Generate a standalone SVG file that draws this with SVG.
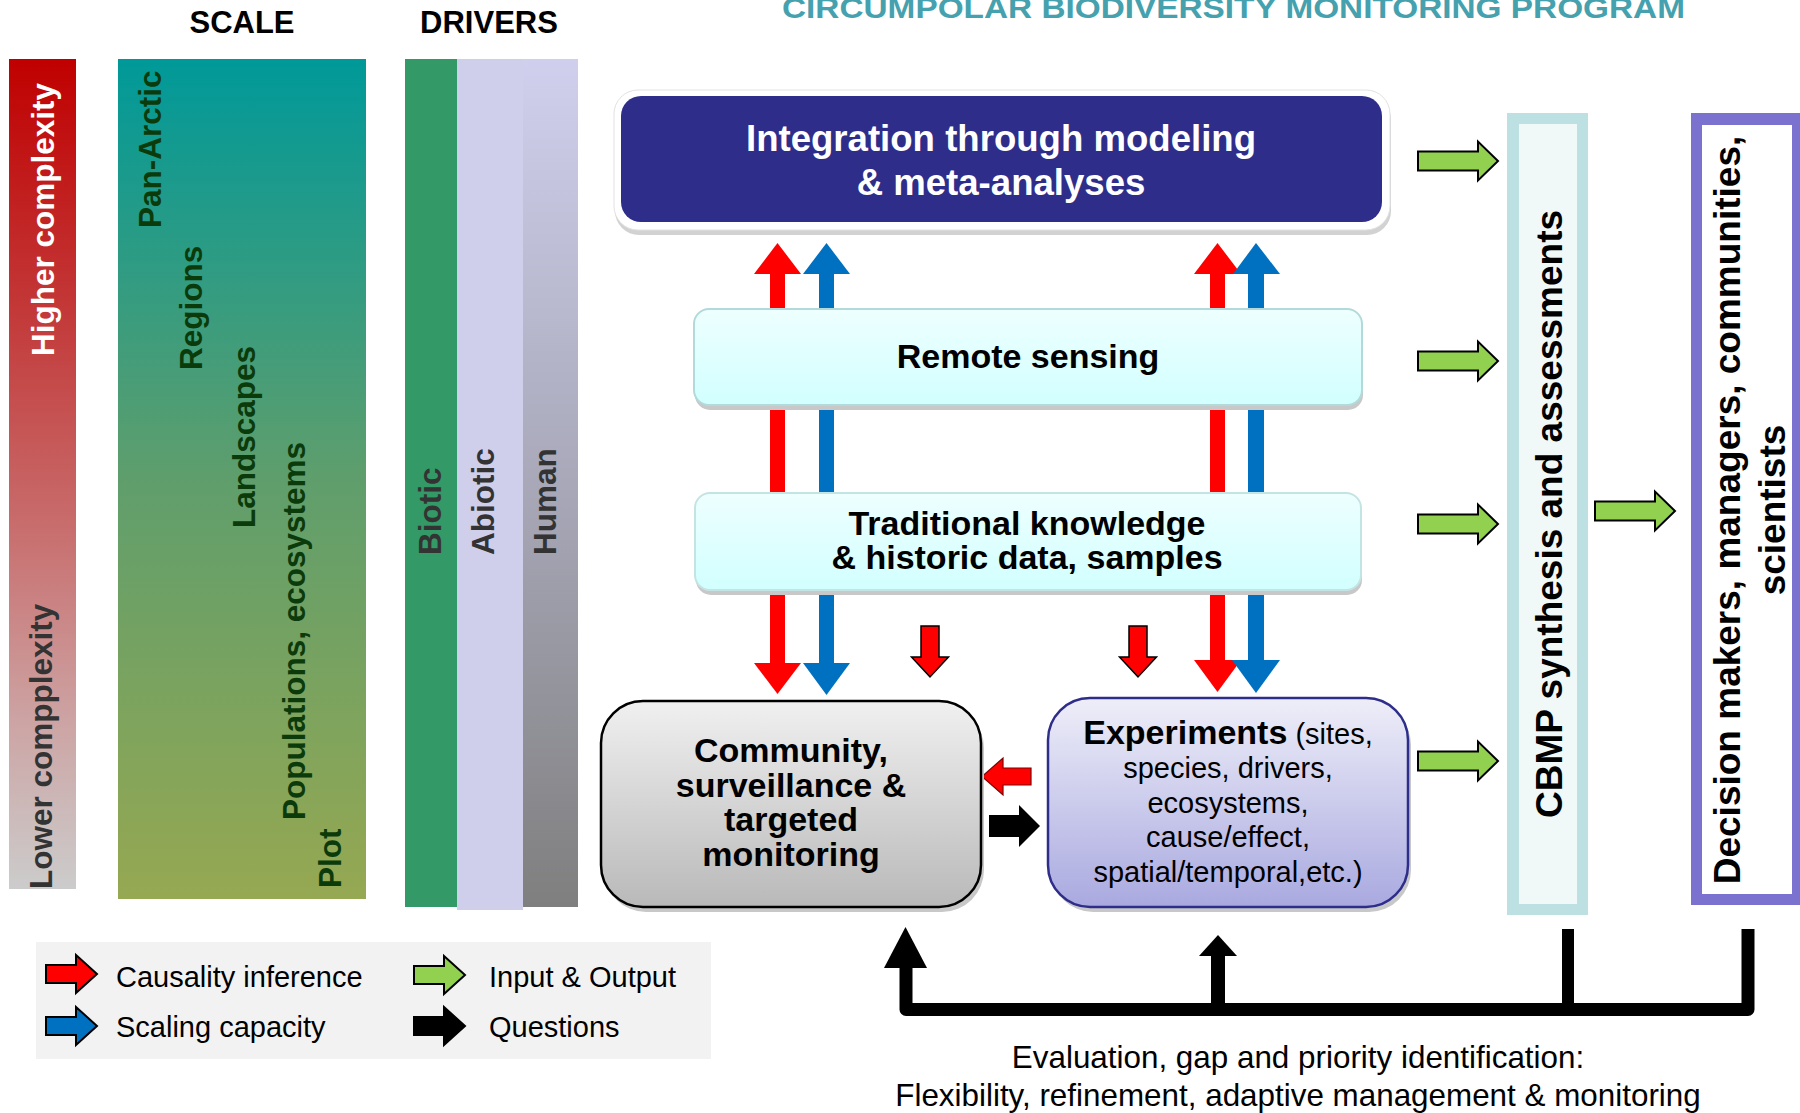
<svg xmlns="http://www.w3.org/2000/svg" xmlns:xlink="http://www.w3.org/1999/xlink" width="1800" height="1113" viewBox="0 0 1800 1113">
<defs>
<linearGradient id="gRed" x1="0" y1="0" x2="0" y2="1">
<stop offset="0" stop-color="#C00000"/><stop offset="0.3" stop-color="#C33838"/><stop offset="0.55" stop-color="#C86A6A"/><stop offset="0.8" stop-color="#CDA4A4"/><stop offset="1" stop-color="#CCCCCC"/>
</linearGradient>
<linearGradient id="gScale" x1="0" y1="0" x2="0" y2="1">
<stop offset="0" stop-color="#009999"/><stop offset="0.5" stop-color="#5F9E6C"/><stop offset="1" stop-color="#96A852"/>
</linearGradient>
<linearGradient id="gHuman" x1="0" y1="0" x2="0" y2="1">
<stop offset="0" stop-color="#D0D0EE"/><stop offset="0.5" stop-color="#A8A8B9"/><stop offset="1" stop-color="#7F7F7F"/>
</linearGradient>
<linearGradient id="gCyan" x1="0" y1="0" x2="0" y2="1">
<stop offset="0" stop-color="#EEFFFF"/><stop offset="1" stop-color="#D2FFFF"/>
</linearGradient>
<linearGradient id="gComm" x1="0" y1="0" x2="0" y2="1">
<stop offset="0" stop-color="#F0F0F0"/><stop offset="1" stop-color="#B9B9B9"/>
</linearGradient>
<linearGradient id="gExp" x1="0" y1="0" x2="0" y2="1">
<stop offset="0" stop-color="#EEEEF9"/><stop offset="1" stop-color="#A9A9E0"/>
</linearGradient>
<path id="blk" d="M0,-9.5 H60 V-19.5 L80,0 L60,19.5 V9.5 H0 Z"/>
<path id="leg" d="M0,-9 H30 V-19 L51,0 L30,19 V9 H0 Z"/>
<path id="smalldown" d="M-9,0 H9 V31 H18.5 L0,51 L-18.5,31 H-9 Z"/>
</defs>
<style>
text{font-family:"Liberation Sans",Arial,sans-serif}
.hdr{font-size:31px;font-weight:bold;fill:#000}
.rot{font-size:31.5px;font-weight:bold}
.sc{fill:#0B3B0B}
.dr{fill:#333333}
.box{font-size:34px;font-weight:bold;fill:#000}
.reg{font-size:29px;fill:#000}
.big{font-size:37px;font-weight:bold;fill:#000}
.green{fill:#92D050;stroke:#000;stroke-width:2}
.red{fill:#FF0000}
.blue{fill:#0070C0}
.shadow{fill:#C8C8C8}
</style>
<rect width="1800" height="1113" fill="#FFFFFF"/>

<g id="title">
<text x="782" y="18" font-family="Lato, 'Open Sans', sans-serif" font-size="30" font-weight="bold" fill="#46A1AE" textLength="903" lengthAdjust="spacingAndGlyphs">CIRCUMPOLAR BIODIVERSITY MONITORING PROGRAM</text>
</g>

<g id="complexity">
<rect x="9" y="59" width="67" height="830" fill="url(#gRed)"/>
<text class="rot" fill="#FFFFFF" font-size="32" transform="translate(54,356) rotate(-90)">Higher complexity</text>
<text class="rot" fill="#333333" transform="translate(52,889) rotate(-90)">Lower compplexity</text>
</g>

<g id="scale">
<text class="hdr" x="242" y="33" text-anchor="middle">SCALE</text>
<rect x="118" y="59" width="248" height="840" fill="url(#gScale)"/>
<text class="rot sc" transform="translate(161,228) rotate(-90)">Pan-Arctic</text>
<text class="rot sc" transform="translate(202,370) rotate(-90)">Regions</text>
<text class="rot sc" transform="translate(255,528) rotate(-90)">Landscapes</text>
<text class="rot sc" transform="translate(305,820) rotate(-90)">Populations, ecosystems</text>
<text class="rot sc" transform="translate(341,888) rotate(-90)">Plot</text>
</g>

<g id="drivers">
<text class="hdr" x="489" y="33" text-anchor="middle">DRIVERS</text>
<rect x="405" y="59" width="53" height="848" fill="#339966"/>
<rect x="457" y="59" width="66" height="851" fill="#CFCFEC"/>
<rect x="523" y="59" width="55" height="848" fill="url(#gHuman)"/>
<text class="rot dr" transform="translate(441,555) rotate(-90)">Biotic</text>
<text class="rot dr" transform="translate(494,555) rotate(-90)">Abiotic</text>
<text class="rot dr" transform="translate(556,555) rotate(-90)">Human</text>
</g>

<g id="connectors">
<rect class="red" x="770" y="272" width="15" height="393"/>
<polygon class="red" points="754,274 777.5,243 801,274"/>
<polygon class="red" points="754,663 777.5,694 801,663"/>
<rect class="blue" x="819" y="272" width="15" height="393"/>
<polygon class="blue" points="803,274 826.5,243 850,274"/>
<polygon class="blue" points="803,663 826.5,695 850,663"/>
<rect class="red" x="1210" y="272" width="15" height="390"/>
<polygon class="red" points="1194,274 1217.5,243 1241,274"/>
<polygon class="red" points="1194,660 1217.5,692 1241,660"/>
<rect class="blue" x="1248" y="272" width="16" height="390"/>
<polygon class="blue" points="1233,274 1256,243 1280,274"/>
<polygon class="blue" points="1232,660 1256,693 1280,660"/>
<use xlink:href="#smalldown" x="930" y="626" fill="#FF0000" stroke="#000" stroke-width="1.5"/>
<use xlink:href="#smalldown" x="1138" y="626" fill="#FF0000" stroke="#000" stroke-width="1.5"/>
<polygon points="1031,768 1003,768 1003,758 982,776.5 1003,795 1003,785 1031,785" fill="#FF0000" stroke="#800000" stroke-width="1.2"/>
<polygon points="989,815 1019,815 1019,805 1040,826 1019,847 1019,837 989,837" fill="#000000"/>
<use xlink:href="#blk" class="green" x="1418" y="161"/>
<use xlink:href="#blk" class="green" x="1418" y="361"/>
<use xlink:href="#blk" class="green" x="1418" y="524"/>
<use xlink:href="#blk" class="green" x="1418" y="761"/>
<use xlink:href="#blk" class="green" x="1595" y="511"/>
<path d="M906,966 V1009.5 H1748 V929" fill="none" stroke="#000" stroke-width="13" stroke-linejoin="round"/>
<path d="M1568,929 V1009.5" fill="none" stroke="#000" stroke-width="12"/>
<path d="M1218,953 V1009.5" fill="none" stroke="#000" stroke-width="14"/>
<polygon points="884,968 905.5,927 927,968" fill="#000"/>
<polygon points="1199,956 1218,935 1237,956" fill="#000"/>
</g>

<g id="integration">
<rect x="615" y="95" width="776" height="140" rx="24" fill="#D2D2D2"/>
<rect x="614" y="90" width="776" height="140" rx="24" fill="#FFFFFF" stroke="#E2E2E2" stroke-width="1"/>
<rect x="621" y="96" width="761" height="126" rx="20" fill="#2E2E8A"/>
<text x="1001" y="151" text-anchor="middle" font-size="36.6" font-weight="bold" fill="#FFFFFF">Integration through modeling</text>
<text x="1001" y="195" text-anchor="middle" font-size="36.6" font-weight="bold" fill="#FFFFFF">&amp; meta-analyses</text>
</g>

<g id="remote">
<rect class="shadow" x="695" y="314" width="668" height="96" rx="15"/>
<rect x="694" y="309" width="668" height="96" rx="15" fill="url(#gCyan)" stroke="#B2DADA" stroke-width="2"/>
<text class="box" x="1028" y="368" text-anchor="middle">Remote sensing</text>
</g>

<g id="traditional">
<rect class="shadow" x="696" y="498" width="666" height="97" rx="15"/>
<rect x="695" y="493" width="666" height="97" rx="15" fill="url(#gCyan)" stroke="#C4E4E4" stroke-width="2"/>
<text class="box" x="1027" y="535" text-anchor="middle">Traditional knowledge</text>
<text class="box" x="1027" y="569" text-anchor="middle">&amp; historic data, samples</text>
</g>

<g id="community">
<rect class="shadow" x="604" y="706" width="380" height="206" rx="42"/>
<rect x="601" y="701" width="380" height="206" rx="42" fill="url(#gComm)" stroke="#000" stroke-width="2.5"/>
<text class="box" x="791" y="762" text-anchor="middle">Community,</text>
<text class="box" x="791" y="797" text-anchor="middle">surveillance &amp;</text>
<text class="box" x="791" y="831" text-anchor="middle">targeted</text>
<text class="box" x="791" y="866" text-anchor="middle">monitoring</text>
</g>

<g id="experiments">
<rect class="shadow" x="1051" y="703" width="360" height="209" rx="42"/>
<rect x="1048" y="698" width="360" height="209" rx="42" fill="url(#gExp)" stroke="#2E2E8A" stroke-width="2.5"/>
<text x="1228" y="744" text-anchor="middle"><tspan class="box">Experiments</tspan><tspan class="reg"> (sites,</tspan></text>
<text class="reg" x="1228" y="778" text-anchor="middle">species, drivers,</text>
<text class="reg" x="1228" y="813" text-anchor="middle">ecosystems,</text>
<text class="reg" x="1228" y="847" text-anchor="middle">cause/effect,</text>
<text class="reg" x="1228" y="882" text-anchor="middle">spatial/temporal,etc.)</text>
</g>

<g id="cbmp">
<rect x="1507" y="113" width="81" height="802" fill="#BDE1E3"/>
<rect x="1519" y="124" width="58" height="780" fill="#F0F9F8"/>
<text class="big" transform="translate(1562,818) rotate(-90)">CBMP synthesis and assessments</text>
</g>

<g id="decision">
<rect x="1691" y="113" width="109" height="792" fill="#7A72CE"/>
<rect x="1702" y="125" width="90" height="769" fill="#FFFFFF"/>
<text class="big" text-anchor="middle" transform="translate(1740,510) rotate(-90)">Decision makers, managers, communities,</text>
<text class="big" text-anchor="middle" transform="translate(1785,510) rotate(-90)">scientists</text>
</g>

<g id="evaluation">
<text x="1298" y="1068" text-anchor="middle" font-size="31.4" fill="#000">Evaluation, gap and priority identification:</text>
<text x="1298" y="1106" text-anchor="middle" font-size="31.4" fill="#000">Flexibility, refinement, adaptive management &amp; monitoring</text>
</g>

<g id="legend">
<rect x="36" y="942" width="675" height="117" fill="#F2F2F2"/>
<use xlink:href="#leg" x="46" y="974" fill="#FF0000" stroke="#000" stroke-width="2"/>
<use xlink:href="#leg" x="46" y="1026" fill="#0070C0" stroke="#000" stroke-width="2"/>
<use xlink:href="#leg" x="414" y="975" fill="#92D050" stroke="#000" stroke-width="2"/>
<use xlink:href="#leg" x="414" y="1026" fill="#000000" stroke="#000" stroke-width="2"/>
<text class="reg" x="116" y="987">Causality inference</text>
<text class="reg" x="116" y="1037">Scaling capacity</text>
<text class="reg" x="489" y="987">Input &amp; Output</text>
<text class="reg" x="489" y="1037">Questions</text>
</g>
</svg>
